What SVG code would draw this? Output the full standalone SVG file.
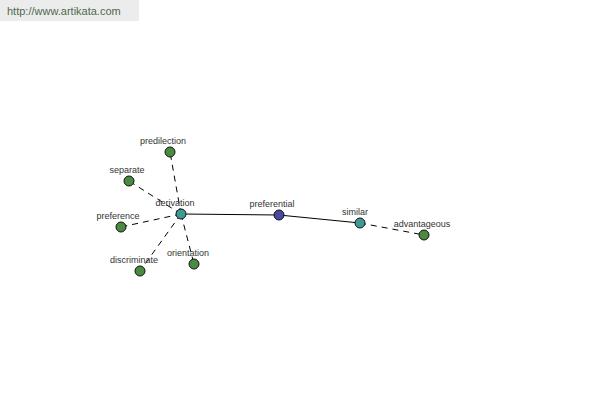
<svg xmlns="http://www.w3.org/2000/svg" width="600" height="400" viewBox="0 0 600 400">
<style>
.lbl{font-family:"Liberation Sans",Arial,sans-serif;font-size:9px;fill:#333;text-anchor:middle}
.n{stroke:#111;stroke-width:1}
.g{fill:#4a8a42}
.t{fill:#3f9a94}
.b{fill:#464aa0}
.solid{stroke:#000;stroke-width:1;fill:none}
.dash{stroke:#000;stroke-width:1;fill:none;stroke-dasharray:6,5}
</style>
<rect width="600" height="400" fill="#fff"/>
<g id="header">
<rect x="0" y="0" width="139" height="21" fill="#ececec"/>
<text x="7" y="15" style="font-family:'Liberation Sans',Arial,sans-serif;font-size:11px;fill:#4d6a4d">http://www.artikata.com</text>
</g>
<g id="connectors">
<line class="solid" x1="181" y1="214" x2="279" y2="215"/>
<line class="solid" x1="279" y1="215" x2="360" y2="223"/>
<line class="dash" x1="360" y1="223" x2="424" y2="235"/>
<line class="dash" x1="181" y1="214" x2="170" y2="152"/>
<line class="dash" x1="181" y1="214" x2="129" y2="181"/>
<line class="dash" x1="181" y1="214" x2="121" y2="227"/>
<line class="dash" x1="181" y1="214" x2="140" y2="271"/>
<line class="dash" x1="181" y1="214" x2="194" y2="264"/>
</g>
<g id="predilection"><circle class="n g" cx="170" cy="152" r="5"/><text class="lbl" x="163" y="144">predilection</text></g>
<g id="separate"><circle class="n g" cx="129" cy="181" r="5"/><text class="lbl" x="127" y="173">separate</text></g>
<g id="preference"><circle class="n g" cx="121" cy="227" r="5"/><text class="lbl" x="118" y="219">preference</text></g>
<g id="discriminate"><circle class="n g" cx="140" cy="271" r="5"/><text class="lbl" x="134" y="263">discriminate</text></g>
<g id="orientation"><circle class="n g" cx="194" cy="264" r="5"/><text class="lbl" x="188" y="256">orientation</text></g>
<g id="derivation"><circle class="n t" cx="181" cy="214" r="5"/><text class="lbl" x="175" y="206">derivation</text></g>
<g id="preferential"><circle class="n b" cx="279" cy="215" r="5"/><text class="lbl" x="272" y="207">preferential</text></g>
<g id="similar"><circle class="n t" cx="360" cy="223" r="5"/><text class="lbl" x="355" y="215">similar</text></g>
<g id="advantageous"><circle class="n g" cx="424" cy="235" r="5"/><text class="lbl" x="422" y="227">advantageous</text></g>
</svg>
